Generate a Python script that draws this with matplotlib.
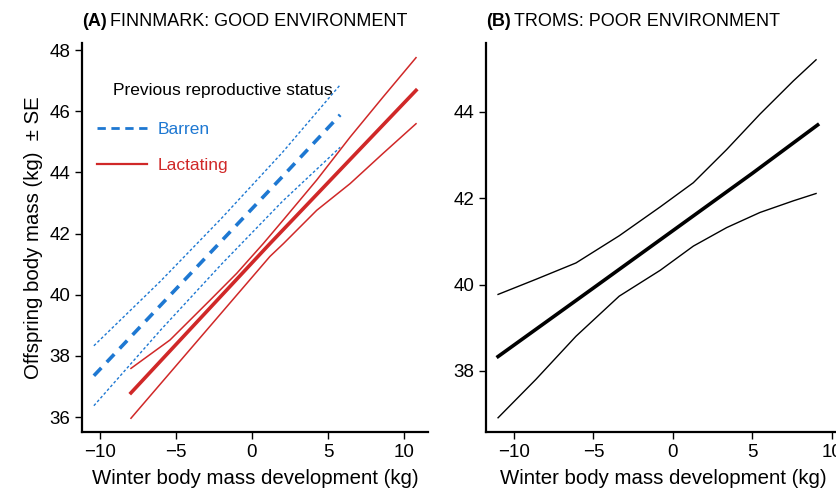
import matplotlib.pyplot as plt
from matplotlib.lines import Line2D

plt.rcParams['font.family'] = ['Liberation Sans', 'DejaVu Sans']

blue = '#1E78D2'
red = '#D02828'

# panel A: Finnmark, predicted offspring mass with +/- SE
barren_x = [-10.4, -6, -2, 2, 5.8]
barren_mean = [37.35, 39.66, 41.76, 43.86, 45.88]
barren_hi = [38.33, 40.45, 42.5, 44.65, 46.86]
barren_lo = [36.37, 38.85, 41.0, 43.05, 44.82]

lact_x = [-7.96, -2.1, 1.18, 5.8, 10.79]
lact_mean = [36.79, 39.92, 41.67, 44.08, 46.68]
lact_hi_x = [-7.96, -5.39, -2.76, -1.0, 0.74, 2.07, 4.26, 6.45, 8.6, 10.79]
lact_hi = [37.59, 38.52, 39.82, 40.7, 41.67, 42.45, 43.75, 45.15, 46.45, 47.75]
lact_lo_x = [-7.96, 1.18, 2.07, 4.26, 6.45, 8.6, 10.79]
lact_lo = [35.96, 41.25, 41.67, 42.76, 43.63, 44.61, 45.59]

# panel B: Troms
troms_x = [-11, -5, 0, 5, 9.1]
troms_mean = [38.33, 39.92, 41.25, 42.58, 43.7]
band_x = [-11, -8.62, -6.1, -3.38, -0.8, 1.28, 3.38, 5.47, 7.57, 9.0]
troms_hi = [39.77, 40.12, 40.5, 41.13, 41.8, 42.36, 43.13, 43.95, 44.72, 45.21]
troms_lo = [36.91, 37.8, 38.8, 39.73, 40.33, 40.89, 41.32, 41.67, 41.94, 42.11]

fig = plt.figure(figsize=(8.36, 4.98), dpi=100)
ax1 = fig.add_axes([0.0981, 0.1325, 0.4139, 0.7812])
ax2 = fig.add_axes([0.5813, 0.1325, 0.4329, 0.7812])

# barren (dashed)
ax1.plot(barren_x, barren_hi, color=blue, lw=1.0, dashes=(2, 1.6))
ax1.plot(barren_x, barren_lo, color=blue, lw=1.0, dashes=(2, 1.6))
ax1.plot(barren_x, barren_mean, color=blue, lw=2.6, dashes=(3, 2.2))
# lactating (solid)
ax1.plot(lact_hi_x, lact_hi, color=red, lw=1.1)
ax1.plot(lact_lo_x, lact_lo, color=red, lw=1.1)
ax1.plot(lact_x, lact_mean, color=red, lw=2.6)

ax1.set_xlim(-11.18, 11.58)
ax1.set_ylim(35.51, 48.23)
ax1.set_xticks([-10, -5, 0, 5, 10])
ax1.set_xticklabels(['\u221210', '\u22125', '0', '5', '10'])
ax1.set_yticks([36, 38, 40, 42, 44, 46, 48])
ax1.set_xlabel('Winter body mass development (kg)', fontsize=14.7, labelpad=6)
ax1.set_ylabel('Offspring body mass (kg)  \u00b1 SE', fontsize=14.7, labelpad=4.5)

# legend, title as separate text
ax1.text(0.0896, 0.879, 'Previous reproductive status', transform=ax1.transAxes,
         fontsize=12.5, ha='left', va='center')
handles = [Line2D([], [], color=blue, lw=2, dashes=(3, 2)),
           Line2D([], [], color=red, lw=1.6)]
leg = ax1.legend(handles, ['Barren', 'Lactating'], loc='upper left',
                 bbox_to_anchor=(0.043, 0.797), borderaxespad=0, borderpad=0,
                 frameon=False, fontsize=12.5, handlelength=2.9,
                 handletextpad=0.6, labelspacing=1.22)
for txt, c in zip(leg.get_texts(), [blue, red]):
    txt.set_color(c)

ax2.plot(band_x, troms_hi, color='black', lw=1.0)
ax2.plot(band_x, troms_lo, color='black', lw=1.0)
ax2.plot(troms_x, troms_mean, color='black', lw=2.6)
ax2.set_xlim(-11.76, 11.0)
ax2.set_ylim(36.58, 45.6)
ax2.set_xticks([-10, -5, 0, 5, 10])
ax2.set_xticklabels(['\u221210', '\u22125', '0', '5', '10'])
ax2.set_yticks([38, 40, 42, 44])
ax2.set_xlabel('Winter body mass development (kg)', fontsize=14.7, labelpad=6)
ax2.xaxis.set_label_coords(0.49, -0.095)

for ax, tag, name in [(ax1, '(A)', 'FINNMARK: GOOD ENVIRONMENT'),
                      (ax2, '(B)', 'TROMS: POOR ENVIRONMENT')]:
    for s in ['top', 'right']:
        ax.spines[s].set_visible(False)
    ax.spines['left'].set_linewidth(1.6)
    ax.spines['bottom'].set_linewidth(1.6)
    ax.tick_params(labelsize=13.5, length=5, width=1, direction='out')
    t = ax.text(0.0, 1.055, tag, transform=ax.transAxes, fontsize=13,
                fontweight='bold', ha='left', va='center')
    fig.canvas.draw()
    bb = t.get_window_extent().transformed(ax.transAxes.inverted())
    ax.text(bb.x1 + 0.008, 1.055, name, transform=ax.transAxes, fontsize=13,
            ha='left', va='center')

fig.savefig('out.png', dpi=100)
